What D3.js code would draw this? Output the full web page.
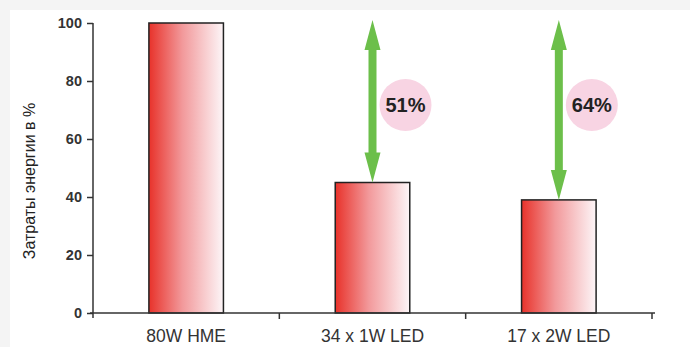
<!DOCTYPE html>
<html><head><meta charset="utf-8">
<script src="https://cdn.jsdelivr.net/npm/d3@7"></script>
<style>html,body{margin:0;padding:0;background:#fff;}</style>
</head><body>
<svg id="c" width="690" height="347"></svg>
<script>
const categories = ["80W HME", "34 x 1W LED", "17 x 2W LED"];
const values = [100, 45, 39];
const savings = [null, "51%", "64%"];
const yTicks = [0, 20, 40, 60, 80, 100];
const yTitle = "Затраты энергии в %";

const svg = d3.select("#c");
svg.append("rect").attr("width", 690).attr("height", 347).attr("fill", "#f4f4f4");
svg.append("rect").attr("x", 10).attr("y", 10).attr("width", 680).attr("height", 337).attr("fill", "#fff");

const x = d3.scaleBand().domain(categories).range([93, 652]).paddingInner(0.6).paddingOuter(0.3);
const y = d3.scaleLinear().domain([0, 100]).range([313, 23]);
const font = "Liberation Sans, Arial, sans-serif";

const defs = svg.append("defs");
const g = defs.append("linearGradient").attr("id", "rg").attr("x1", "0").attr("x2", "1").attr("y1", "0").attr("y2", "0");
g.append("stop").attr("offset", "0").attr("stop-color", "#e8322a");
g.append("stop").attr("offset", "0.45").attr("stop-color", "#f2999b");
g.append("stop").attr("offset", "1").attr("stop-color", "#fdf6f8");

// bars
svg.selectAll(".bar").data(categories).enter().append("rect")
  .attr("x", d => x(d)).attr("width", x.bandwidth())
  .attr("y", (d, i) => y(values[i])).attr("height", (d, i) => y(0) - y(values[i]))
  .attr("fill", "url(#rg)").attr("stroke", "#222").attr("stroke-width", 1.5);

// axes
const axisColor = "#333";
const yAxis = svg.append("g").attr("transform", "translate(93,0)")
  .call(d3.axisLeft(y).tickValues(yTicks).tickSize(6).tickPadding(4));
yAxis.select(".domain").attr("stroke", axisColor).attr("stroke-width", 1.5).attr("d", "M0,23V318");
yAxis.selectAll(".tick line").attr("stroke", axisColor).attr("stroke-width", 1.5);
yAxis.selectAll(".tick text").attr("fill", "#333").attr("font-family", font)
  .attr("font-size", 14.5).attr("font-weight", "bold").attr("dx", "-1");

const xAxis = svg.append("g").attr("transform", "translate(0,313)")
  .call(d3.axisBottom(x).tickSize(0).tickPadding(17));
xAxis.select(".domain").attr("stroke", axisColor).attr("stroke-width", 1.5).attr("d", "M90,0H655");
xAxis.selectAll(".tick text").attr("fill", "#333").attr("font-family", font)
  .attr("font-size", 17.5).attr("dy", "0.71em");
// boundary ticks
const bounds = [x(categories[1]) - x.step()*x.paddingInner()/2, x(categories[2]) - x.step()*x.paddingInner()/2, 652];
svg.selectAll(".bt").data(bounds).enter().append("line")
  .attr("x1", d => d).attr("x2", d => d).attr("y1", 313).attr("y2", 319)
  .attr("stroke", axisColor).attr("stroke-width", 1.5);

// y title
svg.append("text").attr("transform", `translate(35,${(y(0)+y(100))/2 + 13}) rotate(-90)`)
  .attr("text-anchor", "middle").attr("font-family", font)
  .attr("font-size", 16).attr("fill", "#222").text(yTitle);

// arrows and circles
const green = "#6cbf4a";
categories.forEach((c, i) => {
  if (!savings[i]) return;
  const cx = x(c) + x.bandwidth()/2;
  const top = y(100) - 3, bot = y(values[i]);
  const hl = 30, hw = 8, sw = 4;
  const p = d3.path();
  p.moveTo(cx, top); p.lineTo(cx + hw, top + hl); p.lineTo(cx + sw, top + hl);
  p.lineTo(cx + sw, bot - hl); p.lineTo(cx + hw, bot - hl); p.lineTo(cx, bot);
  p.lineTo(cx - hw, bot - hl); p.lineTo(cx - sw, bot - hl); p.lineTo(cx - sw, top + hl);
  p.lineTo(cx - hw, top + hl); p.closePath();
  svg.append("path").attr("d", p.toString()).attr("fill", green);
  const ccx = cx + 33, ccy = 105;
  svg.append("circle").attr("cx", ccx).attr("cy", ccy).attr("r", 26).attr("fill", "#f8d4e3");
  svg.append("text").attr("x", ccx).attr("y", ccy).attr("dy", "0.36em").attr("text-anchor", "middle")
    .attr("font-family", font).attr("font-weight", "bold")
    .attr("font-size", 20).attr("fill", "#222").text(savings[i]);
});
</script>
</body></html>
